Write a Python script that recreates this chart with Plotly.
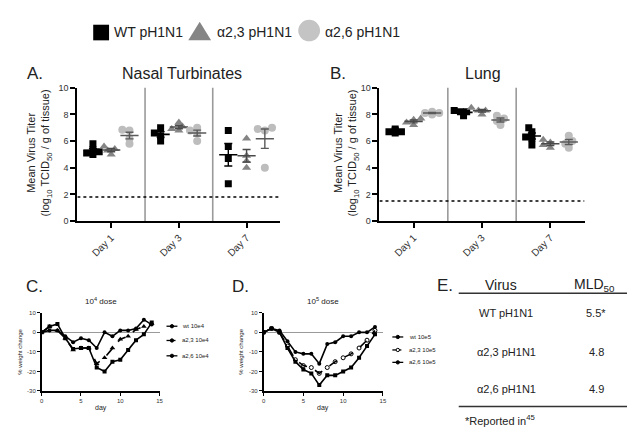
import plotly.graph_objects as go
import numpy as np

W, H = 635, 429
FONT = "Liberation Sans, Arial, sans-serif"

# ---------------- DATA ----------------
day_labels = ["Day 1", "Day 3", "Day 7"]
virus_names = ["WT pH1N1", "α2,3 pH1N1", "α2,6 pH1N1"]

# Nasal turbinates titers (log10 TCID50/g), per day
nasal_wt = [[5.8, 5.35, 5.2, 5.1, 5.0], [7.0, 6.6, 6.4, 6.0], [6.8, 5.6, 4.7, 2.8]]
nasal_a23 = [[5.6, 5.4, 5.3, 5.0], [7.4, 7.1, 6.9, 6.8], [6.2, 4.9, 4.5, 4.0]]
nasal_a26 = [[6.8, 6.85, 6.2, 5.8], [7.0, 6.8, 6.6, 6.0], [7.0, 6.9, 6.8, 4.0]]
nasal_limit = 1.8

# Lung titers
lung_wt = [[6.9, 6.8, 6.7, 6.6, 6.7], [8.3, 8.2, 8.2, 7.9], [7.0, 6.7, 6.3, 6.2, 5.7]]
lung_a23 = [[7.7, 7.6, 7.4, 7.2], [8.5, 8.3, 8.3, 8.0], [6.1, 5.9, 5.7, 5.5]]
lung_a26 = [[8.2, 8.1, 8.0, 8.1], [7.9, 7.7, 7.5, 7.2], [6.4, 6.0, 5.8, 5.5]]
lung_limit = 1.5

# Weight change (%) by day
days = list(range(15))
wt_10e4 = [0, 1, 1, -2, -5, -3, -4, -8, 0, -2, 1, 1, 2, 6.5, 4]
a23_10e4 = [0, 3, 1, -3, -9, -8, -8, -16, -13, -8, -3.5, -2, 1.5, 3, 4.5]
a26_10e4 = [0, 3, 4.3, -3, -8.5, -8, -8, -18, -20, -15, -14, -9, -4, -1, 5]
wt_10e5 = [0, 2, 1, -4.5, -10, -11, -11, -16, -6, -5, -2, -2, 0, 0, 2.8]
a23_10e5 = [0, 2, 0, -7, -14, -17, -18, -21, -18, -15, -13, -11, -8, -4, 1]
a26_10e5 = [0, 2, 0, -8, -15, -19, -21, -27, -22, -22, -20, -18, -13, -7, -1]
legend_10e4 = ["wt 10e4", "a2,3 10e4", "a2,6 10e4"]
legend_10e5 = ["wt 10e5", "a2,3 10e5", "a2,6 10e5"]

# MLD50 table
table_virus = ["WT pH1N1", "α2,3 pH1N1", "α2,6 pH1N1"]
table_mld50 = ["5.5*", "4.8", "4.9"]

# ---------------- STYLE ----------------
colors = ["#000000", "#858585", "#bdbdbd"]
mean_colors = ["#000000", "#4a4a4a", "#5a5a5a"]
symbols = ["square", "triangle-up", "circle"]
sizes = [7, 8, 8]
group_off = [-0.27, 0.0, 0.27]


def px(x):
    return x / W


def py(y):
    return 1 - y / H


def swarm(vals, base, xs_px, ys_px, size):
    out = [0.0] * len(vals)
    placed = []
    step = size * 0.45
    for i in sorted(range(len(vals)), key=lambda k: vals[k]):
        chosen = 0.0
        for k in [0, -1, 1, -2, 2, -3, 3]:
            dx = k * step
            if all((dx - pdx) ** 2 + ((vals[i] - pv) * ys_px) ** 2 >= (size * 0.6) ** 2 for pdx, pv in placed):
                chosen = dx
                break
        placed.append((chosen, vals[i]))
        out[i] = base + chosen / xs_px
    return out


fig = go.Figure()

top_panels = [
    ("x", "y", [nasal_wt, nasal_a23, nasal_a26], 68.0),
    ("x2", "y2", [lung_wt, lung_a23, lung_a26], 69.0),
]
for xa, ya, groups, xscale in top_panels:
    for s, series in enumerate(groups):
        for d, vals in enumerate(series):
            base = d + group_off[s]
            xs = swarm(vals, base, xscale, 13.65, sizes[s])
            fig.add_trace(go.Scatter(
                x=xs, y=vals, mode="markers", xaxis=xa, yaxis=ya,
                marker=dict(symbol=symbols[s], size=sizes[s], color=colors[s], line=dict(width=0)),
                hoverinfo="skip"))
            m = float(np.mean(vals))
            sem = float(np.std(vals, ddof=1) / np.sqrt(len(vals)))
            fig.add_trace(go.Scatter(
                x=[base], y=[m], mode="markers", xaxis=xa, yaxis=ya,
                marker=dict(symbol="line-ew", size=13, line=dict(width=1.6, color=mean_colors[s])),
                error_y=dict(type="data", array=[sem], visible=True, color=mean_colors[s], thickness=1.4, width=4),
                hoverinfo="skip"))

dashes = ["solid", "dash", "solid"]
c_markers = [
    dict(symbol="circle", size=4, color="black"),
    dict(symbol="triangle-up", size=5, color="black"),
    dict(symbol="square", size=4, color="black"),
]
d_markers = [
    dict(symbol="circle", size=4, color="black"),
    dict(symbol="circle-open", size=4, color="black", line=dict(width=1)),
    dict(symbol="square", size=4, color="black"),
]
for xa, ya, series, mk in [("x3", "y3", [wt_10e4, a23_10e4, a26_10e4], c_markers),
                           ("x4", "y4", [wt_10e5, a23_10e5, a26_10e5], d_markers)]:
    for s, vals in enumerate(series):
        fig.add_trace(go.Scatter(
            x=days, y=vals, mode="lines+markers", xaxis=xa, yaxis=ya,
            line=dict(color="black", width=1.6, dash=dashes[s]),
            marker=mk[s], hoverinfo="skip"))

tickfont_top = dict(family=FONT, size=9, color="#333")
tickfont_bot = dict(family=FONT, size=6, color="#333")

top_y_dom = [py(213), py(76.5)]
common_top_x = dict(range=[-0.5, 2.5], tickvals=[0, 1, 2], ticktext=day_labels, tickangle=-45,
                    showline=True, linecolor="black", linewidth=2, ticks="outside", ticklen=5,
                    tickwidth=1.5, tickcolor="black", showgrid=False, zeroline=False,
                    tickfont=dict(family=FONT, size=10, color="#333"), fixedrange=True)
common_top_y = dict(range=[0, 10], tickvals=[0, 2, 4, 6, 8, 10], domain=top_y_dom,
                    showline=True, linecolor="black", linewidth=2, ticks="outside", ticklen=5,
                    tickwidth=1.5, tickcolor="black", showgrid=False, zeroline=False,
                    tickfont=tickfont_top)
bot_y_dom = [py(387), py(307)]
common_bot_x = dict(range=[0, 15], tickvals=[0, 5, 10, 15], showline=True, linecolor="black",
                    linewidth=1.5, ticks="outside", ticklen=3, tickwidth=1, tickcolor="black",
                    showgrid=False, zeroline=False, tickfont=tickfont_bot)
common_bot_y = dict(range=[-30, 10], tickvals=[-30, -20, -10, 0, 10],
                    ticktext=["-30", "-20", "-10", "0", "10"], domain=bot_y_dom,
                    showline=True, linecolor="black", linewidth=1.5, ticks="outside", ticklen=3,
                    tickwidth=1, tickcolor="black", showgrid=False, zeroline=True,
                    zerolinecolor="#9a9a9a", zerolinewidth=1, tickfont=tickfont_bot)

fig.update_layout(
    width=W, height=H, margin=dict(l=0, r=0, t=0, b=0),
    paper_bgcolor="white", plot_bgcolor="white", showlegend=False,
    font=dict(family=FONT, color="#222"),
    xaxis=dict(domain=[px(68), px(273)], anchor="y", **common_top_x),
    yaxis=dict(anchor="x", **common_top_y),
    xaxis2=dict(domain=[px(373), px(580)], anchor="y2", **common_top_x),
    yaxis2=dict(anchor="x2", **common_top_y),
    xaxis3=dict(domain=[px(32), px(151)], anchor="y3", **common_bot_x),
    yaxis3=dict(anchor="x3", **common_bot_y),
    xaxis4=dict(domain=[px(256), px(376.5)], anchor="y4", **common_bot_x),
    yaxis4=dict(anchor="x4", **common_bot_y),
)

shapes = []
# separators and detection limits
for xr, yr, lim in [("x", "y", nasal_limit), ("x2", "y2", lung_limit)]:
    for xv in [0.5, 1.5]:
        shapes.append(dict(type="line", xref=xr, yref=yr, x0=xv, x1=xv, y0=0, y1=10.3,
                           line=dict(color="#9a9a9a", width=1.6), layer="below"))
    shapes.append(dict(type="line", xref=xr, yref=yr, x0=-0.5, x1=2.5, y0=lim, y1=lim,
                       line=dict(color="black", width=1.5, dash="dot")))

# top legend symbols
shapes.append(dict(type="rect", xref="paper", yref="paper", x0=px(84), x1=px(100), y0=py(28), y1=py(12),
                   fillcolor="black", line=dict(width=0)))
shapes.append(dict(type="path", xref="paper", yref="paper",
                   path=f"M {px(180)} {py(28)} L {px(203)} {py(28)} L {px(191.5)} {py(9)} Z",
                   fillcolor="#858585", line=dict(width=0)))
shapes.append(dict(type="circle", xref="paper", yref="paper", x0=px(291), x1=px(313), y0=py(29), y1=py(7),
                   fillcolor="#c4c4c4", line=dict(width=0)))

# table lines
for yy in [287, 403]:
    shapes.append(dict(type="line", xref="paper", yref="paper", x0=px(453), x1=px(630), y0=py(yy), y1=py(yy),
                       line=dict(color="#333", width=1.5)))

# bottom legend samples (line + small marker)
legend_pos = [(158, [320.7, 335.3, 351]), (386, [331.7, 345, 357.7])]
for x0, ys in legend_pos:
    for s, yy in enumerate(ys):
        shapes.append(dict(type="line", xref="paper", yref="paper", x0=px(x0), x1=px(x0 + 11),
                           y0=py(yy), y1=py(yy), line=dict(color="black", width=1.3,
                                                           dash="dash" if s == 1 else "solid")))
        shapes.append(dict(type="circle", xref="paper", yref="paper", x0=px(x0 + 3.8), x1=px(x0 + 7.2),
                           y0=py(yy + 1.7), y1=py(yy - 1.7),
                           fillcolor="white" if (s == 1 and x0 == 386) else "black",
                           line=dict(color="black", width=1)))
fig.update_layout(shapes=shapes)

ann = []


def A(x, y, text, size, xanchor="center", angle=0, color="#222"):
    ann.append(dict(x=px(x), y=py(y), xref="paper", yref="paper", text=text, showarrow=False,
                    xanchor=xanchor, yanchor="middle", textangle=angle,
                    font=dict(family=FONT, size=size, color=color)))


# top legend texts
A(103, 19, virus_names[0], 14, "left")
A(207, 19, virus_names[1], 14, "left")
A(316, 19, virus_names[2], 14, "left")

# panel labels and titles
A(15, 62, "A.", 17, "left")
A(174, 62, "Nasal Turbinates", 16)
A(321, 62, "B.", 17, "left")
A(478, 62, "Lung", 16)
A(14, 280, "C.", 17, "left")
A(222, 280, "D.", 17, "left")
A(429, 279, "E.", 17, "left")

ytitle = "Mean Virus Titer<br>(log<sub>10</sub> TCID<sub>50</sub> / g of tissue)"
A(30, 143, ytitle, 11, angle=-90)
A(340, 143, ytitle, 11, angle=-90)

# bottom panel titles / axis titles
A(91.5, 295, "10<sup>4</sup> dose", 8)
A(316, 295, "10<sup>5</sup> dose", 8)
A(91.5, 404, "day", 7)
A(316, 404, "day", 7)
A(10, 347, "% weight change", 6, angle=-90)
A(233, 347, "% weight change", 6, angle=-90)

# bottom legends texts
for s, yy in enumerate(legend_pos[0][1]):
    A(172, yy, legend_10e4[s], 6, "left")
for s, yy in enumerate(legend_pos[1][1]):
    A(401, yy, legend_10e5[s], 6, "left")

# table
A(496, 278, "Virus", 14)
A(590, 278, "MLD<sub>50</sub>", 14)
for i, yy in enumerate([307, 347, 385]):
    A(501, yy, table_virus[i], 11)
    A(592, yy, table_mld50[i], 11)
A(457, 417, "*Reported in<sup>45</sup>", 11, "left")

fig.update_layout(annotations=ann)

fig.write_html("out.html")
